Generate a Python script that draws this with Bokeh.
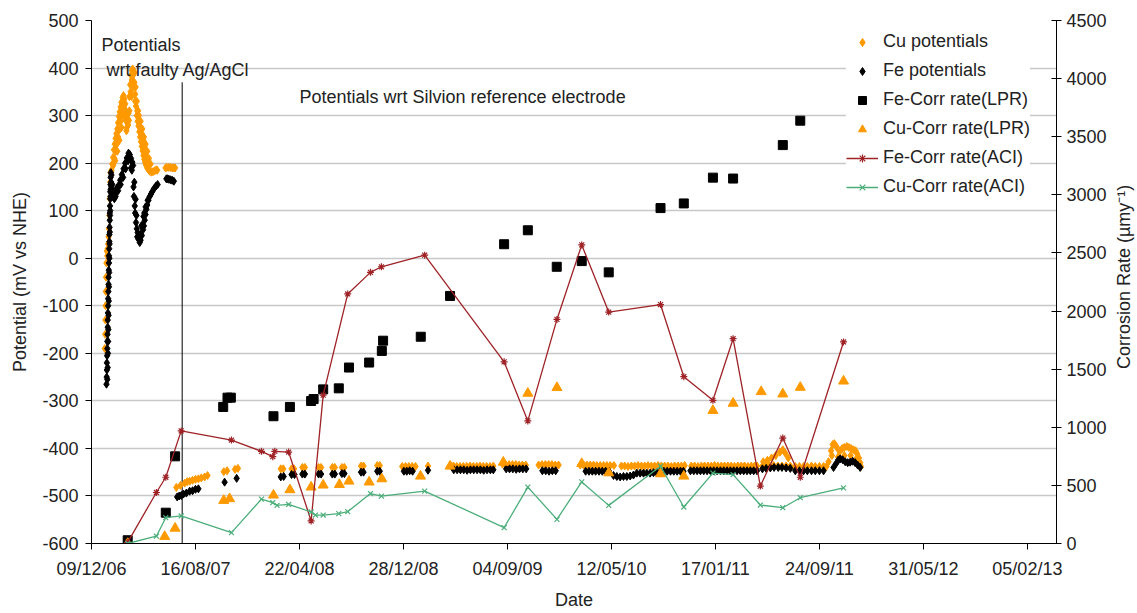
import math
from datetime import datetime
import numpy as np
import pandas as pd
from bokeh.plotting import figure
from bokeh.layouts import row
from bokeh.models import (Range1d, LinearAxis, FixedTicker, DatetimeTickFormatter,
                          Legend, LegendItem, Label)
from bokeh.embed import file_html
from bokeh.resources import INLINE

FONT = "Liberation Sans"
TXT = "#222222"
ORANGE = "#FF9900"
FE_RED = "#9E2226"
CU_GREEN = "#4BAE7A"

# ---------------- data (days after 09/12/2006, values) ----------------
START_DATE = "2006-12-09"
X_TICK_LABELS = ["09/12/06", "16/08/07", "22/04/08", "28/12/08", "04/09/09",
                 "12/05/10", "17/01/11", "24/09/11", "31/05/12", "05/02/13"]
X_END_DAY = 2320
Y_TICKS = list(range(-600, 501, 100))
RATE_TICKS = list(range(0, 4501, 500))

CU_POT = [
    (32, -190), (33, -160), (33.5, -130), (34, -100), (34.5, -70), (35, -40), (36, -10), (37, 15),
    (38, 5), (39, 20), (40, 30), (41, 45), (42, 62), (43, 90), (44, 125), (45, 160), (46, 180),
    (48, 185), (50, 198), (52, 212), (54, 228), (56, 240), (58, 252), (60, 262), (62, 272),
    (64, 285), (66, 298), (68, 308), (70, 318), (72, 328), (75, 338), (77, 342), (79, 335),
    (81, 325), (83, 310), (85, 295), (87, 285), (89, 305), (91, 340), (93, 365), (95, 385),
    (97, 395), (99, 398), (101, 394), (103, 370), (105, 345), (107, 320), (109, 300), (111, 288),
    (113, 278), (115, 266), (117, 255), (119, 245), (121, 235), (123, 226), (125, 216),
    (127, 208), (129, 202), (131, 196), (134, 190), (137, 186), (140, 183), (144, 181),
    (148, 182), (152, 184), (156, 186), (158, 185),
    (55, 210), (58, 225), (61, 240), (64, 255), (67, 270), (70, 288), (73, 300), (76, 315),
    (79, 322), (82, 290), (85, 275), (88, 280), (91, 310), (94, 350), (97, 375), (100, 385),
    (103, 390), (106, 360), (109, 330), (112, 310), (115, 290), (118, 275), (121, 262),
    (124, 250), (127, 235), (130, 222), (133, 210), (136, 200), (139, 195),
    (52, 195), (57, 205), (62, 225), (67, 248), (72, 275), (78, 300), (84, 268), (90, 290),
    (96, 340), (101, 360), (105, 330), (110, 310), (114, 300), (118, 288), (122, 272),
    (126, 255), (130, 240), (134, 225), (138, 210), (142, 198),
    (178, 190), (181, 191), (185, 191), (190, 191), (194, 190), (198, 190), (201, 190),
    (204, -482), (214, -478), (224, -473), (230, -470), (236, -469), (243, -467), (250, -465),
    (257, -464), (264, -462), (272, -460), (279, -457),
    (318, -449), (326, -447), (345, -444), (352, -442),
    (455, -443), (461, -443), (481, -443), (487, -443), (507, -440), (513, -440), (546, -440),
    (552, -440), (579, -440), (585, -440), (602, -440), (608, -440), (648, -437), (654, -437),
    (687, -436), (693, -436),
    (747, -438), (755, -438), (763, -438), (771, -438), (779, -438), (809, -437),
    (863, -436), (870, -437), (878, -438), (886, -438), (894, -438), (902, -438), (910, -437),
    (918, -438), (926, -438), (934, -437), (942, -438), (950, -438), (958, -438), (966, -437),
    (988, -433), (996, -434), (1004, -434), (1012, -434), (1020, -434), (1028, -435),
    (1036, -435), (1044, -435),
    (1075, -435), (1083, -434), (1091, -434), (1099, -434), (1107, -434), (1115, -435),
    (1123, -435),
    (1175, -435), (1183, -435), (1191, -435), (1199, -435), (1207, -435), (1215, -436),
    (1223, -436), (1231, -436), (1239, -436), (1247, -436), (1256, -436),
    (1274, -437), (1282, -437), (1290, -438), (1298, -437), (1306, -437), (1314, -436),
    (1322, -437), (1330, -437), (1338, -436), (1346, -437), (1354, -437), (1362, -436),
    (1370, -437), (1378, -437), (1386, -437), (1394, -438), (1402, -437), (1410, -437),
    (1418, -437), (1426, -436), (1442, -437), (1450, -437), (1458, -438), (1466, -437),
    (1474, -437), (1482, -437), (1490, -437), (1498, -436), (1506, -437), (1514, -437),
    (1522, -437), (1530, -437), (1538, -437), (1546, -438), (1554, -437), (1562, -437),
    (1570, -437), (1578, -438), (1586, -437), (1594, -437), (1600, -437),
    (1613, -437), (1620, -437), (1630, -436), (1640, -436), (1650, -437), (1660, -437),
    (1670, -437), (1680, -437), (1615, -428), (1625, -425), (1635, -420), (1645, -415),
    (1655, -408), (1662, -403), (1668, -410), (1675, -420),
    (1692, -438), (1702, -438), (1712, -438), (1721, -438), (1731, -437), (1740, -438),
    (1750, -438), (1760, -438),
    (1767, -438), (1772, -428), (1778, -405), (1782, -392), (1786, -390), (1790, -395),
    (1795, -402), (1800, -405), (1805, -400), (1810, -398), (1816, -396), (1821, -398),
    (1826, -400), (1832, -403), (1837, -405), (1841, -412), (1845, -420), (1848, -430),
    (1850, -438), (1780, -415), (1795, -418), (1810, -415), (1825, -415), (1840, -420),
]

FE_POT = [
    (36, -265), (36.5, -250), (37, -235), (37, -220), (37.5, -205), (38, -190), (38, -175),
    (38.5, -160), (39, -145), (39, -130), (39.5, -115), (40, -100), (40, -85), (40.5, -70),
    (41, -55), (41, -40), (41.5, -25), (42, -10), (42, 5), (42.5, 20), (43, 35), (43, 50),
    (43.5, 65), (44, 80), (44, 95), (44.5, 110), (45, 125), (45, 140), (45.5, 155), (46, 170),
    (46.5, 180), (48, 175), (50, 155), (52, 140), (54, 132), (57, 140), (61, 147), (65, 153),
    (69, 164), (73, 176), (77, 188), (81, 200), (85, 211), (89, 221), (92, 218), (95, 210),
    (98, 202), (100, 195), (103, 160), (106, 124), (108, 90), (111, 54), (113, 40), (116, 33),
    (118, 38), (121, 48), (124, 60), (126, 68), (128, 80), (130, 92), (132, 103), (134, 112),
    (137, 122), (140, 130), (143, 135), (146, 140), (150, 146), (155, 152), (159, 155),
    (50, 130), (55, 125), (60, 140), (95, 190), (101, 150), (104, 110), (107, 75), (110, 45),
    (120, 68), (125, 88), (130, 108), (135, 122),
    (39.5, -200), (40.5, -150), (41.5, -90), (42.5, -30), (43.5, 30), (44.5, 90), (45.5, 130),
    (38, -255), (39, -230), (40, -175), (41, -120), (42, -60), (43, 0), (44, 55), (45, 100),
    (46, 145), (47, 160), (48, 150),
    (58, 130), (64, 142), (70, 155), (76, 170), (82, 188), (88, 205), (97, 185), (102, 130),
    (105, 95), (109, 62), (112, 45), (115, 40), (118, 50), (122, 70), (127, 95),
    (180, 167), (183, 167), (186, 166), (190, 165), (194, 164), (198, 162),
    (206, -502), (211, -500), (216, -499), (221, -496), (228, -494), (236, -490), (243, -489),
    (250, -486), (257, -485),
    (320, -471), (349, -463),
    (455, -460), (462, -459), (481, -455), (488, -455), (507, -454), (513, -454), (546, -454),
    (552, -454), (579, -454), (585, -454), (602, -453), (608, -453), (648, -450), (654, -450),
    (687, -448), (693, -448),
    (751, -448), (758, -448), (765, -447), (772, -448), (809, -446),
    (871, -445), (879, -445), (887, -445), (895, -445), (903, -446), (911, -445), (919, -445),
    (927, -445), (935, -445), (943, -446), (951, -445), (959, -445), (966, -445),
    (997, -443), (1005, -443), (1013, -443), (1021, -444), (1029, -443), (1037, -443),
    (1045, -443),
    (1084, -447), (1092, -447), (1100, -448), (1108, -447), (1116, -447),
    (1188, -448), (1196, -448), (1204, -448), (1212, -448), (1220, -448), (1228, -448),
    (1236, -448), (1244, -448),
    (1255, -457), (1263, -459), (1271, -460), (1279, -459), (1287, -459), (1295, -458),
    (1303, -456),
    (1311, -452), (1319, -452), (1327, -452), (1335, -452), (1343, -452), (1351, -451),
    (1359, -451),
    (1368, -448), (1376, -448), (1384, -448), (1392, -448), (1400, -448), (1408, -448),
    (1416, -448), (1423, -448),
    (1440, -447), (1448, -447), (1456, -447), (1464, -447), (1472, -447), (1480, -447),
    (1488, -447), (1496, -447), (1504, -447), (1512, -447), (1520, -447), (1528, -447),
    (1536, -447), (1544, -447), (1552, -447), (1560, -447), (1568, -447), (1576, -447),
    (1584, -447), (1592, -447), (1600, -447),
    (1613, -443), (1622, -442), (1632, -441), (1641, -440), (1651, -440), (1660, -440),
    (1670, -441), (1680, -442),
    (1692, -447), (1702, -447), (1712, -447), (1721, -447), (1731, -447), (1740, -447),
    (1750, -447), (1760, -447),
    (1784, -440), (1790, -432), (1795, -425), (1800, -422), (1806, -424), (1812, -428),
    (1818, -430), (1824, -429), (1830, -427), (1836, -430), (1842, -435), (1848, -440),
]

FE_LPR = [
    (87, 28), (178.6, 265), (201, 750), (316.6, 1175), (327, 1255), (335, 1255), (437.5, 1095),
    (477, 1175), (528, 1226), (534, 1243), (557, 1326), (594.5, 1335), (619, 1514),
    (667.5, 1557), (698, 1657), (701, 1745), (791.6, 1779), (862, 2130), (992, 2575),
    (1049, 2695), (1118.5, 2381), (1178.6, 2430), (1243.5, 2333), (1368, 2886), (1424, 2926),
    (1494, 3148), (1542.5, 3140), (1662, 3428), (1704, 3638),
]

CU_LPR = [
    (87, 0), (176, 60), (201, 131), (318, 370), (332, 385), (437.5, 416), (477, 462), (528, 485),
    (557, 502), (596, 507), (619, 536), (667.5, 528), (698, 556), (791, 579), (862, 665),
    (990, 699), (1049, 1292), (1119, 1341), (1178.6, 687), (1243.5, 607), (1368, 599),
    (1424, 579), (1494, 1144), (1542.5, 1206), (1610, 1306), (1662, 1286), (1704, 1343),
    (1808, 1397),
]

FE_ACI = [
    (87, 10), (156, 439), (178.6, 570), (215.6, 969), (336.5, 890), (408.6, 793), (435.8, 747),
    (440.6, 793), (474, 787), (528, 194), (557, 1277), (616, 2147), (670.7, 2333), (697, 2381),
    (801, 2481), (992, 1563), (1049, 1055), (1119, 1928), (1178.6, 2569), (1243.5, 1991),
    (1368, 2056), (1424, 1435), (1494, 1232), (1542.5, 1762), (1608, 494), (1662, 907),
    (1704, 570), (1808, 1734),
]

CU_ACI = [
    (87, 0), (156, 63), (178.6, 222), (215.6, 237), (336.5, 94), (408.6, 382), (435.8, 351),
    (446, 328), (474, 336), (528, 271), (538.5, 245), (557, 245), (594.5, 257), (616, 274),
    (670.7, 430), (697, 408), (801, 451), (992, 137), (1049, 485), (1119, 208), (1178.6, 530),
    (1243.5, 328), (1368, 665), (1424, 314), (1494, 606), (1542.5, 593), (1608, 331),
    (1662, 308), (1704, 394), (1808, 479),
]

REF_CHANGE_DAY = 218      # vertical divider (change of reference electrode)
REF_CHANGE_TOP = 370

# ---------------- helpers ----------------
BASE = pd.Timestamp(START_DATE)


def to_dates(days):
    return BASE + pd.to_timedelta(np.asarray(days, dtype=float), unit="D")


def to_ms(day):
    return (BASE + pd.Timedelta(days=day)).value / 1e6


def split(pairs):
    d = [a for a, b in pairs]
    v = [b for a, b in pairs]
    return to_dates(d), v


cu_pot_x, cu_pot_y = split(CU_POT)
fe_pot_x, fe_pot_y = split(FE_POT)
fe_lpr_x, fe_lpr_y = split(FE_LPR)
cu_lpr_x, cu_lpr_y = split(CU_LPR)
fe_aci_x, fe_aci_y = split(FE_ACI)
cu_aci_x, cu_aci_y = split(CU_ACI)

tick_ms = [pd.Timestamp(datetime.strptime(s, "%d/%m/%y")).value / 1e6 for s in X_TICK_LABELS]

H = 612
# ---------------- main figure ----------------
p = figure(width=1111, height=H, x_axis_type="datetime",
           x_range=Range1d(BASE, BASE + pd.Timedelta(days=X_END_DAY)),
           y_range=Range1d(-600, 500),
           output_backend="svg", toolbar_location=None,
           min_border_left=91, min_border_right=55, min_border_top=20, min_border_bottom=66)
p.outline_line_color = None
p.background_fill_color = "white"
p.extra_y_ranges = {"rate": Range1d(0, 4500)}

p.xgrid.visible = False
p.ygrid.grid_line_color = "#C8C8C8"
p.ygrid.grid_line_width = 1.5

fmt = "%d/%m/%y"
xa = p.xaxis[0]
xa.ticker = FixedTicker(ticks=tick_ms)
xa.formatter = DatetimeTickFormatter(milliseconds=fmt, seconds=fmt, minsec=fmt, minutes=fmt,
                                     hourmin=fmt, hours=fmt, days=fmt, months=fmt, years=fmt)
xa.axis_label = "Date"
xa.major_tick_out = 6
xa.major_tick_in = 0
xa.major_label_standoff = 9
xa.axis_label_standoff = 8

ya = p.yaxis[0]
ya.ticker = FixedTicker(ticks=Y_TICKS)
ya.major_label_overrides = {t: str(t) for t in Y_TICKS}
ya.axis_label = "Potential (mV vs NHE)"
ya.major_tick_out = 6
ya.major_tick_in = 0
ya.major_label_standoff = 7
ya.axis_label_standoff = 9

ra = LinearAxis(y_range_name="rate", ticker=FixedTicker(ticks=RATE_TICKS))
ra.major_tick_out = 5
ra.major_tick_in = 5
ra.major_label_standoff = 5
p.add_layout(ra, "right")

for ax in (xa, ya, ra):
    ax.axis_line_color = "black"
    ax.major_tick_line_color = "black"
    ax.minor_tick_line_color = None
    ax.major_label_text_font = FONT
    ax.major_label_text_font_size = "18px"
    ax.major_label_text_color = TXT
    ax.axis_label_text_font = FONT
    ax.axis_label_text_font_size = "18px"
    ax.axis_label_text_font_style = "normal"
    ax.axis_label_text_color = TXT

# divider line
p.segment(x0=to_dates([REF_CHANGE_DAY]), y0=[-600], x1=to_dates([REF_CHANGE_DAY]),
          y1=[REF_CHANGE_TOP], line_color="black", line_width=1)

r_cu = p.scatter(cu_pot_x, cu_pot_y, marker="diamond", size=8, fill_color=ORANGE,
                 line_color=ORANGE)
r_fe = p.scatter(fe_pot_x, fe_pot_y, marker="diamond", size=8, fill_color="black",
                 line_color="black")
r_fel = p.scatter(fe_lpr_x, fe_lpr_y, y_range_name="rate", marker="square", size=9,
                  fill_color="black", line_color="black")
r_cul = p.scatter(cu_lpr_x, cu_lpr_y, y_range_name="rate", marker="triangle", size=10,
                  fill_color=ORANGE, line_color=ORANGE)
r_fea_l = p.line(fe_aci_x, fe_aci_y, y_range_name="rate", line_color=FE_RED, line_width=1.3)
r_fea_m = p.scatter(fe_aci_x, fe_aci_y, y_range_name="rate", marker="asterisk", size=7,
                    line_color=FE_RED, line_width=1.2)
r_cua_l = p.line(cu_aci_x, cu_aci_y, y_range_name="rate", line_color=CU_GREEN, line_width=1.3)
r_cua_m = p.scatter(cu_aci_x, cu_aci_y, y_range_name="rate", marker="x", size=7,
                    line_color=CU_GREEN, line_width=1.2)

legend = Legend(items=[
    LegendItem(label="Cu potentials", renderers=[r_cu]),
    LegendItem(label="Fe potentials", renderers=[r_fe]),
    LegendItem(label="Fe-Corr rate(LPR)", renderers=[r_fel]),
    LegendItem(label="Cu-Corr rate(LPR)", renderers=[r_cul]),
    LegendItem(label="Fe-Corr rate(ACI)", renderers=[r_fea_l, r_fea_m]),
    LegendItem(label="Cu-Corr rate(ACI)", renderers=[r_cua_l, r_cua_m]),
], location=(755, 346), padding=10, spacing=8, glyph_width=32, glyph_height=20,
    label_height=20, label_standoff=5, margin=0, border_line_color=None,
    background_fill_color="white", background_fill_alpha=1.0,
    label_text_font=FONT, label_text_font_size="18px", label_text_color=TXT)
p.add_layout(legend)

for txt, day, mv in [("Potentials", 24, 448),
                     ("wrt faulty Ag/AgCl", 36, 395),
                     ("Potentials wrt Silvion reference electrode", 500, 339)]:
    p.add_layout(Label(x=to_ms(day), y=mv, text=txt, text_font=FONT, text_font_size="18px",
                       text_color=TXT, text_baseline="middle", text_align="left"))

# ---------------- narrow strip holding the right-hand axis title ----------------
side = figure(width=25, height=H, x_range=Range1d(0, 1), y_range=Range1d(0, H),
              output_backend="svg", toolbar_location=None,
              x_axis_location=None, y_axis_location=None, min_border=0)
side.outline_line_color = None
side.grid.visible = False
side.add_layout(Label(x=0.5, y=H - 300, text="Corrosion Rate (\u00b5my\u207b\u00b9)",
                      angle=math.pi / 2, text_font=FONT, text_font_size="18px",
                      text_color=TXT, text_baseline="middle", text_align="center"))

layout = row(p, side, spacing=0)
open("out.html", "w").write(file_html(layout, INLINE))
